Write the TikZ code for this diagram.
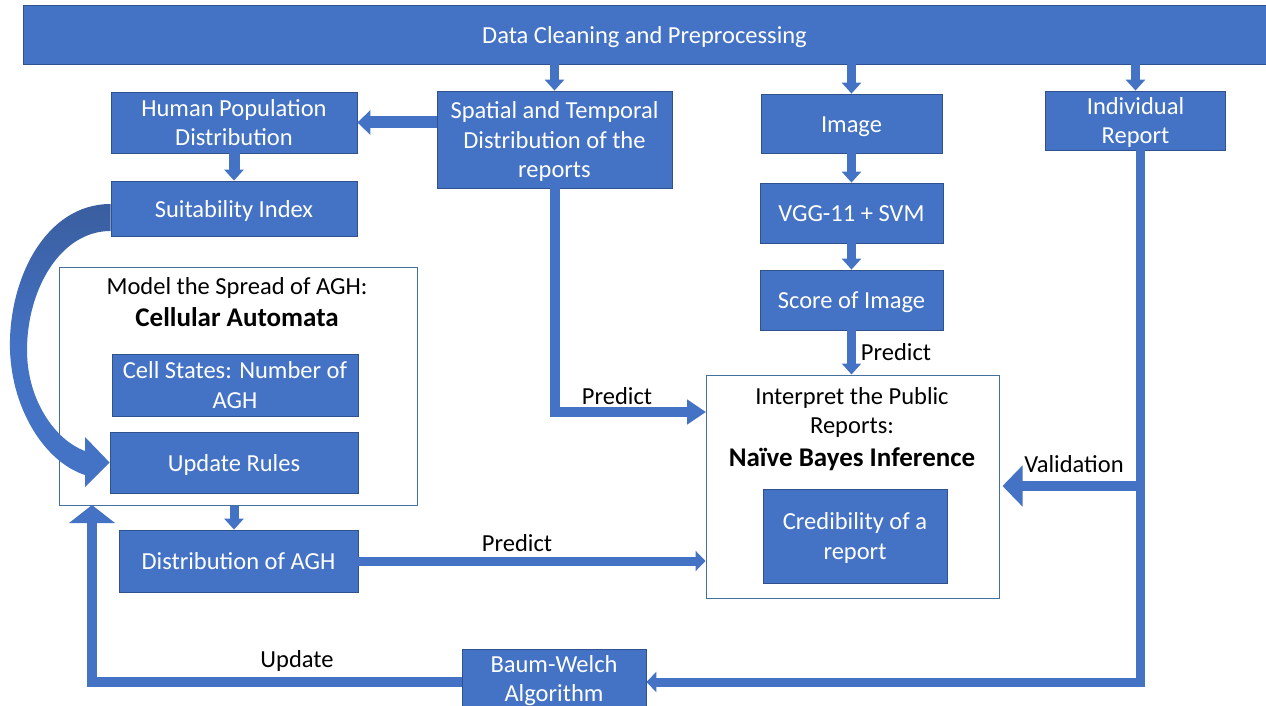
\documentclass[tikz,border=0pt]{standalone}
\usepackage{fontspec}
\setmainfont{Carlito}
\usetikzlibrary{arrows.meta,calc}
\definecolor{ob}{HTML}{4472C4}
\definecolor{obd}{HTML}{2F528F}
\definecolor{obdk}{HTML}{3A5E9F}
\definecolor{cont}{HTML}{41719C}
\begin{document}
\begin{tikzpicture}[x=1pt,y=-1pt,
  box/.style={draw=obd, line width=0.8pt, fill=ob, text=white, align=center, inner sep=0pt,
    font=\fontsize{24.5}{29.5}\selectfont,
    execute at begin node=\strut, execute at end node=\strut, text depth=3.3pt},
  mbox/.style={box, text depth=-1.7pt},
  frame/.style={draw=cont, line width=1pt, fill=white, inner sep=0pt},
  lbl/.style={text=black, inner sep=0pt, font=\fontsize{24.5}{29.5}\selectfont},
  blbl/.style={text=black, inner sep=0pt, font=\fontsize{27}{31}\selectfont\bfseries},
  arrs/.style={draw=ob, line width=9pt, line join=miter,
    -{Triangle[width=19pt,length=11pt]}},
  arrm/.style={draw=ob, line width=12pt, line join=miter,
    -{Triangle[width=24pt,length=13pt]}},
  arrl/.style={draw=ob, line width=10pt, line join=miter,
    -{Triangle[width=40pt,length=20pt]}},
  arrn/.style={draw=ob, line width=9pt, line join=miter,
    -{Triangle[width=20pt,length=10pt]}},
  ]
\useasboundingbox (0,0) rectangle (1266,706);
\fill[white] (0,0) rectangle (1266,706);

% nodes
\node[box, minimum width=1243pt, minimum height=59pt] (bar) at (644.5,34.5) {Data Cleaning and Preprocessing};
\node[mbox, minimum width=246pt, minimum height=61pt] (hpd) at (234,122.5) {Human Population\\Distribution};
\node[box, minimum width=246pt, minimum height=55pt] (si) at (234,208.5) {Suitability Index};
\node[mbox, minimum width=235pt, minimum height=97pt] (sp) at (554.5,139.5) {Spatial and Temporal\\Distribution of the\\reports};
\node[box, minimum width=181pt, minimum height=59pt] (img) at (851.5,123.5) {Image};
\node[box, minimum width=183pt, minimum height=60pt] (vgg) at (851.5,213) {VGG-11 + SVM};
\node[box, minimum width=183pt, minimum height=60pt] (score) at (851.5,300) {Score of Image};
\node[mbox, minimum width=180pt, minimum height=59pt] (ir) at (1135.5,120.5) {Individual\\Report};

\node[frame, minimum width=358pt, minimum height=238pt] (ca) at (238,386) {};
\node[lbl] (catitle) at (237,288) {Model the Spread of AGH:};
\node[blbl] (cabold) at (237,317) {Cellular Automata};
\node[mbox, minimum width=246pt, minimum height=62pt] (cell) at (235,385) {Cell States: Number of\\AGH};
\node[box, minimum width=248pt, minimum height=61pt] (upd) at (234,462.5) {Update Rules};
\node[box, minimum width=239pt, minimum height=62pt] (dist) at (238.5,561) {Distribution of AGH};

\node[frame, minimum width=293pt, minimum height=223pt] (interp) at (852.5,486.5) {};
\node[lbl] (it1) at (852,398) {Interpret the Public};
\node[lbl] (it2) at (852,428) {Reports:};
\node[blbl] (it3) at (852,459) {Naïve Bayes Inference};
\node[mbox, minimum width=184pt, minimum height=94pt] (cred) at (855,536) {Credibility of a\\report};

\node[mbox, minimum width=184pt, minimum height=59pt] (bw) at (554,678.5) {Baum-Welch\\Algorithm};

% helper coordinates
\coordinate (pin) at (706,412);
\coordinate (vsrc) at (1140,486);
\coordinate (bl) at (0,682);
\coordinate (upin) at (92,505);

% connectors
\draw[arrs] (bar.south -| sp.north) -- (sp.north);
\draw[arrs] (bar.south -| img.north) -- (img.north);
\draw[arrs] (bar.south -| ir.north) -- (ir.north);
\draw[arrm] (sp.west |- hpd.east) -- (hpd.east);
\draw[arrs, line width=11pt, -{Triangle[width=19pt,length=11pt]}] (hpd.south) -- (si.north);
\draw[arrs] (img.south) -- (vgg.north);
\draw[arrs] (vgg.south) -- (score.north);
\draw[arrs] (score.south) -- (score.south |- interp.north);
\draw[arrs] (ca.south -| upd.south) -- (upd.south |- dist.north);
\draw[arrn, line width=10pt, -{Triangle[width=24pt,length=19pt]}] (sp.south) |- (pin);
\draw[arrn] (dist.east) -- (dist.east -| interp.west);
\draw[arrn] ([xshift=4.5pt]ir.south) |- (bw.east |- bl);
\draw[arrl, shorten >=3pt] (vsrc) -- (interp.east |- vsrc);
\draw[arrn, line width=10pt, -{Triangle[width=45pt,length=18pt]}] (bw.west |- bl) -| (upin);

% curved arrow from Suitability Index to Update Rules
\path[top color=obdk, bottom color=ob, middle color=ob]
  ([yshift=4.5pt]si.west) .. controls (45,204) and (8,280) .. (10,350)
  .. controls (12,410) and (45,462) .. (85,475)
  -- (85,487) -- (upd.west) -- (85,437) -- (85,451)
  .. controls (55,440) and (27,400) .. (27,350)
  .. controls (27,290) and (60,231) .. ([yshift=-22.5pt]si.west) -- cycle;

% labels
\node[lbl] (p1) at (896,352) {Predict};
\node[lbl] (p2) at (617,396) {Predict};
\node[lbl] (p3) at (517,543) {Predict};
\node[lbl] (val) at (1074,464) {Validation};
\node[lbl] (upl) at (297,661) {Update};
\end{tikzpicture}
\end{document}
